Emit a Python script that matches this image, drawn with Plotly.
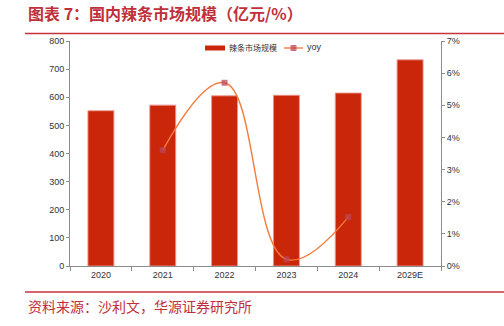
import plotly.graph_objects as go

# Market size of spicy strips in China (100 million yuan) and YoY growth
years = ["2020", "2021", "2022", "2023", "2024", "2029E"]
market_size = [552, 572, 605, 607, 615, 733]
yoy_years = ["2021", "2022", "2023", "2024"]
yoy = [0.036, 0.057, 0.0021, 0.0152]

left_ticks = list(range(0, 801, 100))
right_ticks = [i / 100 for i in range(0, 8)]

W, H = 504, 326
ML, MR, MT, MB = 70, 63, 41, 60
PW, PH = W - ML - MR, H - MT - MB


def px_x(x):
    return (x - ML) / PW


def px_y(y):
    return (H - MB - y) / PH


RED = "#C0303A"
BAR = "#C9260A"
LINE = "#F47B3C"
MARK = "rgba(190,70,90,0.75)"
AXIS = "#8C8C8C"
CJK = "Noto Sans CJK SC, sans-serif"
TICKFONT = dict(family="Liberation Sans, Arial, sans-serif", size=9, color="#333333")

fig = go.Figure()
fig.add_trace(go.Bar(
    x=years, y=market_size, name="辣条市场规模",
    marker=dict(color=BAR, line=dict(color="rgba(235,150,140,0.9)", width=1)),
    yaxis="y",
))
fig.add_trace(go.Scatter(
    x=yoy_years, y=yoy, name="yoy", mode="lines+markers",
    line=dict(color=LINE, width=1.4, shape="spline", smoothing=1.2),
    marker=dict(symbol="square", size=6, color=MARK),
    yaxis="y2",
))

fig.update_layout(
    width=W, height=H,
    margin=dict(l=ML, r=MR, t=MT, b=MB),
    paper_bgcolor="white", plot_bgcolor="white",
    bargap=0.58,
    showlegend=False,
    xaxis=dict(type="category", showgrid=False, showline=True, linecolor=AXIS, linewidth=1,
               ticks="outside", tickson="boundaries", ticklen=4, tickcolor=AXIS,
               tickfont=TICKFONT),
    yaxis=dict(range=[0, 800], tickvals=left_ticks, showgrid=False, showline=True,
               linecolor=AXIS, linewidth=1, ticks="outside", ticklen=3, tickcolor=AXIS,
               tickfont=TICKFONT, zeroline=False),
    yaxis2=dict(range=[0, 0.07], tickvals=right_ticks, tickformat=".0%", overlaying="y",
                side="right", showgrid=False, showline=True, linecolor=AXIS, linewidth=1,
                ticks="outside", ticklen=3, tickcolor=AXIS, tickfont=TICKFONT,
                zeroline=False),
)

# Legend drawn by hand: wide bar swatch and line-with-marker swatch
LY = 48
fig.add_shape(type="rect", xref="paper", yref="paper", x0=px_x(205), x1=px_x(225),
              y0=px_y(LY + 2.5), y1=px_y(LY - 2.5), line=dict(width=0), fillcolor=BAR)
fig.add_annotation(text="辣条市场规模", xref="paper", yref="paper", x=px_x(227), y=px_y(LY),
                   xanchor="left", yanchor="middle", showarrow=False,
                   font=dict(family=CJK, size=8, color="#333333"))
fig.add_shape(type="line", xref="paper", yref="paper", x0=px_x(284), x1=px_x(303),
              y0=px_y(LY), y1=px_y(LY), line=dict(color=LINE, width=1.4))
fig.add_shape(type="rect", xref="paper", yref="paper", x0=px_x(290.5), x1=px_x(296.5),
              y0=px_y(LY + 3), y1=px_y(LY - 3), line=dict(width=0), fillcolor=MARK)
fig.add_annotation(text="yoy", xref="paper", yref="paper", x=px_x(305), y=px_y(LY - 0.5),
                   xanchor="left", yanchor="middle", showarrow=False,
                   font=dict(family="Liberation Sans, Arial, sans-serif", size=9, color="#333333"))

# Title, header/footer rules and source note
fig.add_annotation(text="<b>图表 7：国内辣条市场规模（亿元/%）</b>", xref="paper", yref="paper",
                   x=px_x(26), y=px_y(13), xanchor="left", yanchor="middle", showarrow=False,
                   font=dict(family=CJK, size=16, color=RED))
fig.add_annotation(text="资料来源：沙利文，华源证券研究所", xref="paper", yref="paper",
                   x=px_x(26), y=px_y(306), xanchor="left", yanchor="middle", showarrow=False,
                   font=dict(family=CJK, size=14, color=RED))
for yy in (33.5, 292):
    fig.add_shape(type="line", xref="paper", yref="paper",
                  x0=px_x(25), x1=px_x(504), y0=px_y(yy), y1=px_y(yy),
                  line=dict(color="#C8323C", width=1.5))

fig.write_html("out.html")
